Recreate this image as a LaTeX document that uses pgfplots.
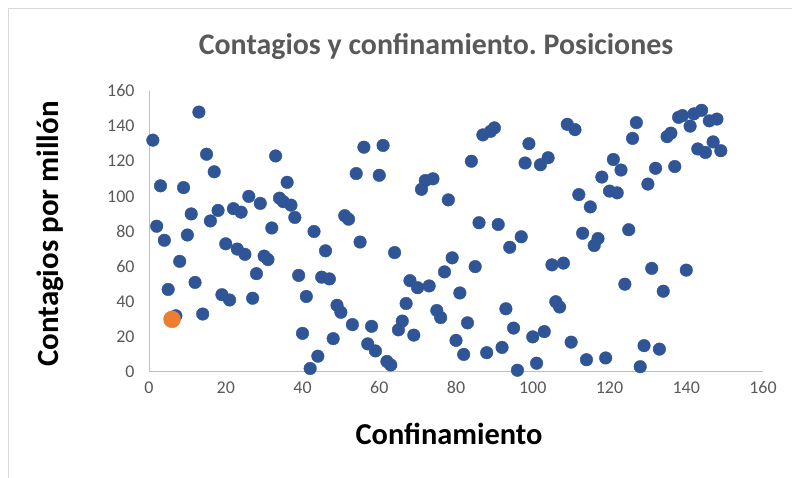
\documentclass[border=0pt]{standalone}
\usepackage{fontspec}
\setmainfont{Carlito}
\usepackage{pgfplots}
\pgfplotsset{compat=1.18}
\definecolor{ptblue}{HTML}{2F5597}
\definecolor{ptorange}{HTML}{ED7D31}
\definecolor{txtgray}{HTML}{595959}
\definecolor{axgray}{HTML}{BFBFBF}
\definecolor{framegray}{HTML}{D9D9D9}

% posicion en confinamiento vs posicion en contagios
\pgfplotstableread{
x y
1 132
2 83
3 106
4 75
5 47
7 32
8 63
9 105
10 78
11 90
12 51
13 148
14 33
15 124
16 86
17 114
18 92
19 44
20 73
21 41
22 93
23 70
24 91
25 67
26 100
27 42
28 56
29 96
30 66
31 64
32 82
33 123
34 99
35 97
36 108
37 95
38 88
39 55
40 22
41 43
42 2
43 80
44 9
45 54
46 69
47 53
48 19
49 38
50 34
51 89
52 87
53 27
54 113
55 74
56 128
57 16
58 26
59 12
60 112
61 129
62 6
63 4
64 68
65 24
66 29
67 39
68 52
69 21
70 48
71 104
72 109
73 49
74 110
75 35
76 31
77 57
78 98
79 65
80 18
81 45
82 10
83 28
84 120
85 60
86 85
87 135
88 11
89 137
90 139
91 84
92 14
93 36
94 71
95 25
96 1
97 77
98 119
99 130
100 20
101 5
102 118
103 23
104 122
105 61
106 40
107 37
108 62
109 141
110 17
111 138
112 101
113 79
114 7
115 94
116 72
117 76
118 111
119 8
120 103
121 121
122 102
123 115
124 50
125 81
126 133
127 142
128 3
129 15
130 107
131 59
132 116
133 13
134 46
135 134
136 136
137 117
138 145
139 146
140 58
141 140
142 147
143 127
144 149
145 125
146 143
147 131
148 144
149 126
}\paises

\begin{document}
\frenchspacing
\begin{tikzpicture}[x=1bp,y=1bp]
\useasboundingbox (0,0) rectangle (792,478);
\draw[framegray, line width=1bp] (8,-5) -- (8,469) -- (800,469);
\node[font=\bfseries\fontsize{30}{30}\selectfont, text=txtgray, anchor=base] at (436,423) {Contagios y confinamiento. Posiciones};
\node[font=\bfseries\fontsize{30.5}{30}\selectfont, anchor=base] at (449,33) {Confinamiento};
\node[font=\bfseries\fontsize{31}{30}\selectfont, rotate=90, anchor=base] at (58,244) {Contagios por millón};
\begin{axis}[
  at={(149bp,106bp)}, anchor=south west,
  scale only axis, width=614bp, height=281bp,
  xmin=0, xmax=160, ymin=0, ymax=160,
  xtick={0,20,...,160}, ytick={0,20,...,160},
  axis lines*=left,
  axis line style={axgray, line width=1bp},
  major tick style={draw=none},
  /pgf/number format/assume math mode=true,
  tick label style={font=\fontsize{18}{18}\selectfont, text=txtgray},
  xticklabel style={yshift=-6bp},
  yticklabel style={xshift=-11bp},
  clip=false,
]
\addplot[only marks, color=ptblue, mark=*, mark size=6.3bp, mark options={draw=none, fill=ptblue}]
  table[x=x, y=y] {\paises};
\addplot[only marks, color=ptorange, mark=*, mark size=8.5bp, mark options={draw=none, fill=ptorange}]
  coordinates {(6,30)};
\end{axis}
\end{tikzpicture}
\end{document}
